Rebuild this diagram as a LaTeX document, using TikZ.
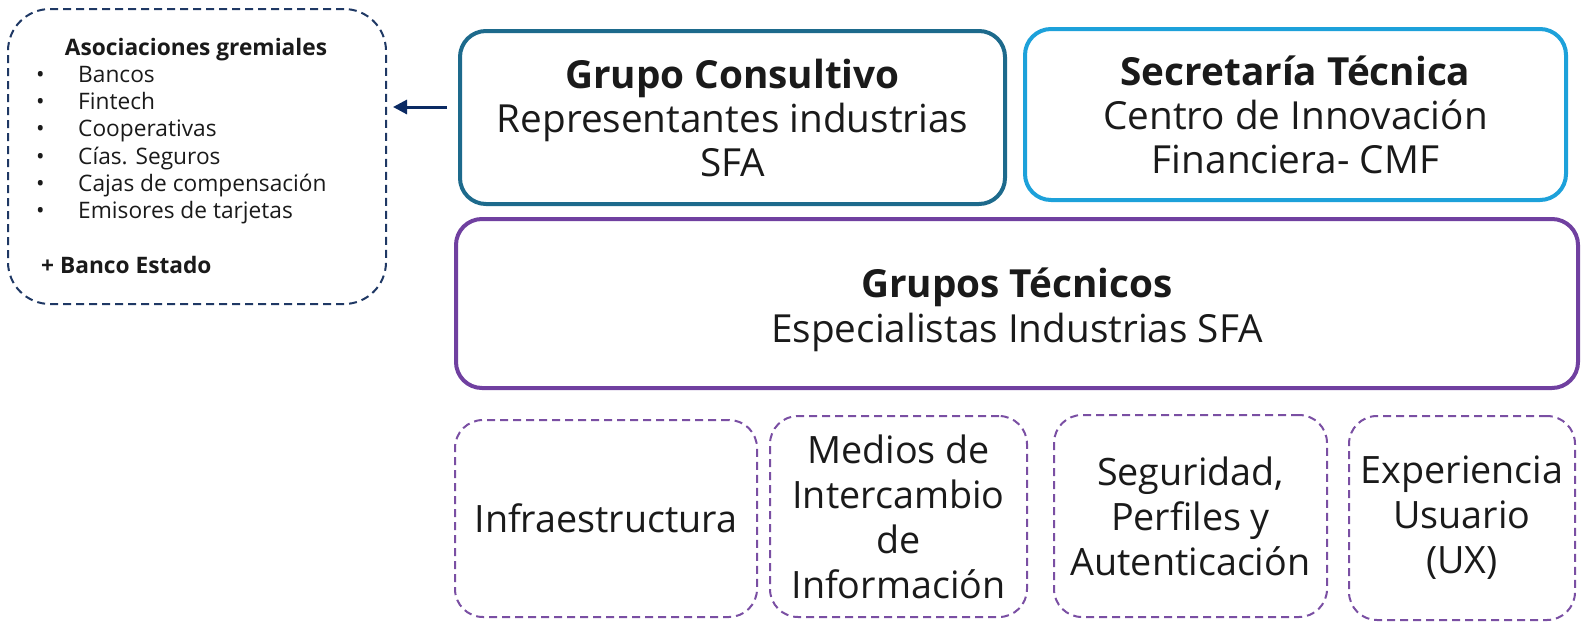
\documentclass[tikz,border=0pt]{standalone}
\usepackage{fontspec}
\setmainfont{Open Sans}
\usetikzlibrary{arrows.meta}
\definecolor{gcblue}{HTML}{1D6A8C}
\definecolor{stblue}{HTML}{1DA1DA}
\definecolor{gtpurple}{HTML}{7040A0}
\definecolor{dpurple}{HTML}{7A4FA3}
\definecolor{navy}{HTML}{1F3864}
\definecolor{arrnavy}{HTML}{0B2A63}
\definecolor{txt}{HTML}{1A1A1A}
\tikzset{
  solidbox/.style={draw, line width=4pt, rounded corners=26pt, text=txt, align=center, inner sep=0pt},
  dashbox/.style={draw=dpurple, line width=2pt, dash pattern=on 8pt off 5pt, rounded corners=28pt, text=txt, align=center, inner sep=0pt, font=\fontsize{37.7}{45}\selectfont},
  asocbox/.style={draw=navy, line width=2pt, dash pattern=on 8pt off 5pt, rounded corners=42pt, inner sep=0pt},
  ltext/.style={anchor=base west, inner sep=0pt, text=txt, font=\fontsize{22.7}{27}\selectfont},
  arr/.style={draw=arrnavy, line width=3pt, -{Triangle[length=14pt,width=14pt]}},
}
\begin{document}
\begin{tikzpicture}[x=1pt,y=-1pt]
\useasboundingbox (0,0) rectangle (1587,627);
% left box
\node[asocbox, minimum width=378pt, minimum height=295pt] (asoc) at (197,156.5) {};
\node[ltext, anchor=base, font=\fontsize{22.7}{27}\selectfont\bfseries] (t0) at (196,55) {Asociaciones gremiales};
\node[ltext] (b1) at (36,82) {•}; \node[ltext] (i1) at (78,82) {Bancos};
\node[ltext] (b2) at (36,109) {•}; \node[ltext] (i2) at (78,109) {Fintech};
\node[ltext] (b3) at (36,136) {•}; \node[ltext] (i3) at (78,136) {Cooperativas};
\node[ltext] (b4) at (36,164) {•}; \node[ltext] (i4) at (78,164) {Cías. Seguros};
\node[ltext] (b5) at (36,191) {•}; \node[ltext] (i5) at (78,191) {Cajas de compensación};
\node[ltext] (b6) at (36,218) {•}; \node[ltext] (i6) at (78,218) {Emisores de tarjetas};
\node[ltext, font=\fontsize{22.7}{27}\selectfont\bfseries] (be) at (41,273) {+ Banco Estado};
% top boxes
\node[solidbox, draw=gcblue, minimum width=545pt, minimum height=173pt, font=\fontsize{38.7}{44}\selectfont] (gc) at (732.5,117.5)
  {{\bfseries Grupo Consultivo}\\Representantes industrias\\SFA};
\node[solidbox, draw=stblue, minimum width=541pt, minimum height=171pt, font=\fontsize{38.7}{44}\selectfont] (st) at (1295.5,114.5)
  {{\bfseries Secretaría Técnica}\\Centro de Innovación\\Financiera- CMF};
\node[solidbox, draw=gtpurple, minimum width=1122pt, minimum height=169pt] (gt) at (1017,303.5) {};
\node[text=txt, inner sep=0pt, anchor=base, font=\fontsize{38.7}{46}\selectfont\bfseries] (gtt) at (1017,297) {Grupos Técnicos};
\node[text=txt, inner sep=0pt, anchor=base, font=\fontsize{38.7}{46}\selectfont] (gts) at (1017,342) {Especialistas Industrias SFA};
% bottom boxes
\node[dashbox, minimum width=302pt, minimum height=197pt] (inf) at (606,518.5) {Infraestructura};
\node[dashbox, minimum width=257pt, minimum height=201pt] (med) at (898.5,516.5) {Medios de\\Intercambio\\de\\Información};
\node[dashbox, minimum width=273pt, minimum height=202pt] (seg) at (1190.5,516) {Seguridad,\\Perfiles y\\Autenticación};
\node[dashbox, minimum width=226pt, minimum height=204pt] (exp) at (1462,518) {Experiencia\\Usuario\\(UX)};
% arrow
\coordinate (a0) at ([shift={(-11pt,10.5pt)}]gc.west);
\draw[arr, shorten >=6pt] (a0) -- (a0 -| asoc.east);
\end{tikzpicture}
\end{document}
